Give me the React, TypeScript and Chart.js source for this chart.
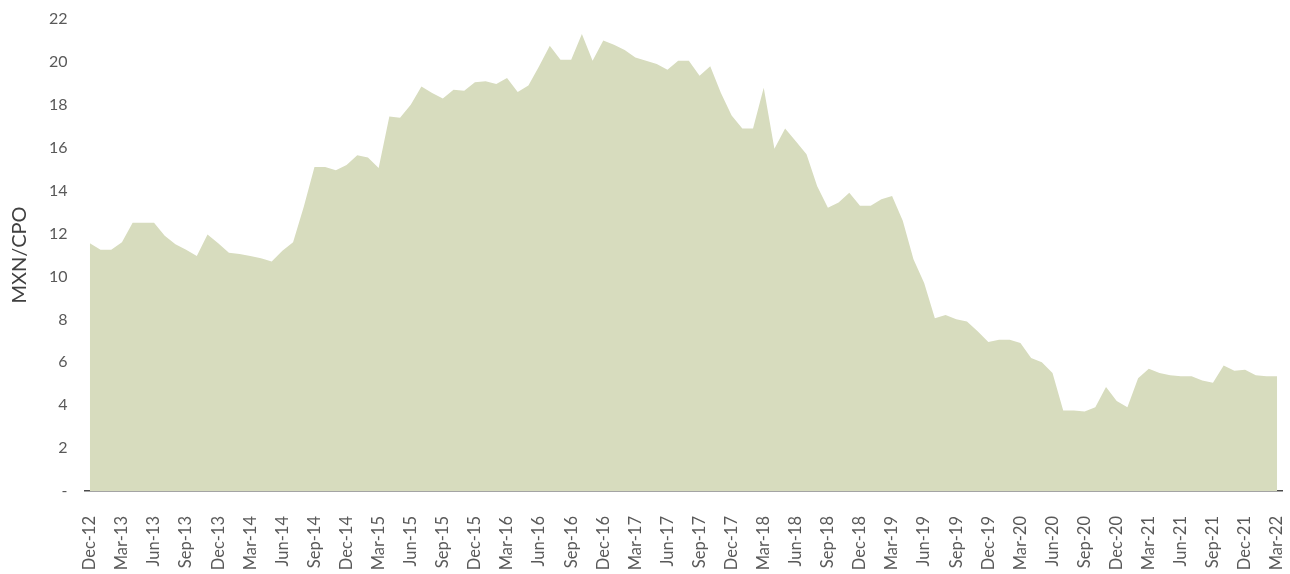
import React, { useEffect, useRef } from "react";
import { Chart, registerables } from "chart.js";

Chart.register(...registerables);

const months: string[] = [
  "Dec-12",
  "Jan-13","Feb-13","Mar-13","Apr-13","May-13","Jun-13","Jul-13","Aug-13","Sep-13","Oct-13","Nov-13","Dec-13",
  "Jan-14","Feb-14","Mar-14","Apr-14","May-14","Jun-14","Jul-14","Aug-14","Sep-14","Oct-14","Nov-14","Dec-14",
  "Jan-15","Feb-15","Mar-15","Apr-15","May-15","Jun-15","Jul-15","Aug-15","Sep-15","Oct-15","Nov-15","Dec-15",
  "Jan-16","Feb-16","Mar-16","Apr-16","May-16","Jun-16","Jul-16","Aug-16","Sep-16","Oct-16","Nov-16","Dec-16",
  "Jan-17","Feb-17","Mar-17","Apr-17","May-17","Jun-17","Jul-17","Aug-17","Sep-17","Oct-17","Nov-17","Dec-17",
  "Jan-18","Feb-18","Mar-18","Apr-18","May-18","Jun-18","Jul-18","Aug-18","Sep-18","Oct-18","Nov-18","Dec-18",
  "Jan-19","Feb-19","Mar-19","Apr-19","May-19","Jun-19","Jul-19","Aug-19","Sep-19","Oct-19","Nov-19","Dec-19",
  "Jan-20","Feb-20","Mar-20","Apr-20","May-20","Jun-20","Jul-20","Aug-20","Sep-20","Oct-20","Nov-20","Dec-20",
  "Jan-21","Feb-21","Mar-21","Apr-21","May-21","Jun-21","Jul-21","Aug-21","Sep-21","Oct-21","Nov-21","Dec-21",
  "Jan-22","Feb-22","Mar-22",
];

const mxnPerCpo: number[] = [
  11.55,
  11.25, 11.25, 11.6, 12.5, 12.5, 12.5, 11.9, 11.5, 11.25, 10.95, 11.95, 11.55,
  11.1, 11.05, 10.95, 10.85, 10.7, 11.2, 11.6, 13.25, 15.1, 15.1, 14.95, 15.2,
  15.65, 15.55, 15.05, 17.45, 17.4, 18.0, 18.85, 18.55, 18.3, 18.7, 18.65, 19.05,
  19.1, 18.97, 19.25, 18.6, 18.9, 19.8, 20.75, 20.1, 20.1, 21.3, 20.05, 21.0,
  20.8, 20.55, 20.2, 20.05, 19.9, 19.63, 20.05, 20.05, 19.35, 19.8, 18.55, 17.5,
  16.9, 16.9, 18.8, 15.95, 16.9, 16.3, 15.7, 14.2, 13.2, 13.45, 13.9, 13.3,
  13.3, 13.6, 13.75, 12.6, 10.8, 9.7, 8.05, 8.2, 8.0, 7.9, 7.45, 6.95,
  7.05, 7.05, 6.9, 6.2, 6.0, 5.5, 3.75, 3.75, 3.7, 3.9, 4.85, 4.2,
  3.9, 5.25, 5.7, 5.5, 5.4, 5.35, 5.35, 5.15, 5.05, 5.85, 5.6, 5.65,
  5.4, 5.35, 5.35,
];

const yTitle = "MXN/CPO";
const fontFamily = "Lato, 'Liberation Sans', sans-serif";

export default function App() {
  const canvasRef = useRef<HTMLCanvasElement | null>(null);

  useEffect(() => {
    document.body.style.margin = "0";
    const canvas = canvasRef.current;
    if (!canvas) return;
    const chart = new Chart(canvas, {
      type: "line",
      data: {
        labels: months,
        datasets: [
          {
            label: yTitle,
            data: mxnPerCpo,
            fill: "origin",
            backgroundColor: "#D7DCBE",
            borderWidth: 0,
            borderColor: "rgba(0,0,0,0)",
            pointRadius: 0,
            tension: 0,
          },
        ],
      },
      options: {
        animation: false,
        responsive: false,
        devicePixelRatio: 1,
        layout: { padding: { top: 19, right: 7.5, left: 0, bottom: 0 } },
        plugins: {
          legend: { display: false },
          tooltip: { enabled: false },
          title: { display: false },
        },
        scales: {
          x: {
            type: "category",
            offset: true,
            grid: { display: false, drawTicks: false },
            border: { display: true, color: "#4a4a4a", width: 1.5 },
            ticks: {
              autoSkip: false,
              minRotation: 90,
              maxRotation: 90,
              padding: 25,
              color: "#595959",
              font: { family: fontFamily, size: 16.5 },
              callback: (_v: any, idx: number) => (idx % 3 === 0 ? months[idx] : ""),
            },
            afterFit: (scale: any) => {
              scale.height = 83;
              scale.paddingLeft = 0;
              scale.paddingRight = 0;
            },
          },
          y: {
            min: 0,
            max: 22,
            grid: { display: false, drawTicks: false },
            border: { display: false },
            ticks: {
              stepSize: 2,
              padding: 17,
              color: "#595959",
              font: { family: fontFamily, size: 16 },
              callback: (v: any) => (Number(v) === 0 ? "-" : String(v)),
            },
            title: {
              display: true,
              text: yTitle,
              color: "#404040",
              font: { family: fontFamily, size: 20 },
              padding: { top: 8, bottom: 0 },
            },
            afterFit: (scale: any) => {
              scale.width = 84.5;
              scale.paddingTop = 0;
              scale.paddingBottom = 0;
            },
          },
        },
      },
    });
    return () => chart.destroy();
  }, []);

  return (
    <div style={{ width: 1290, height: 574, background: "#ffffff" }}>
      <canvas ref={canvasRef} width={1290} height={574} style={{ display: "block" }} />
    </div>
  );
}
